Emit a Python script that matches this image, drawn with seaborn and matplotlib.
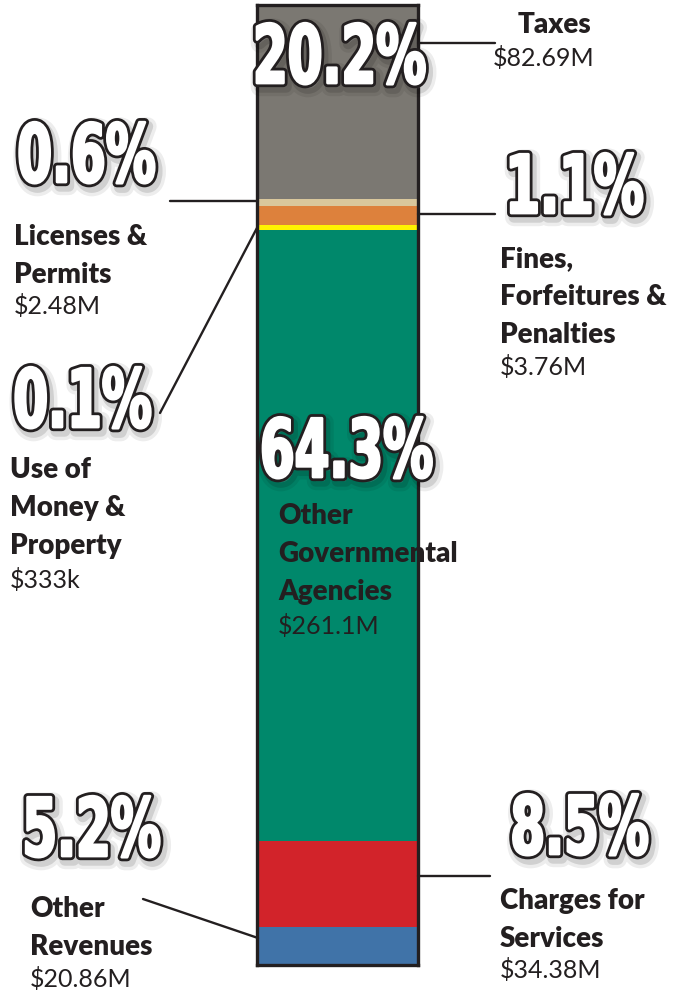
"""Revenue breakdown shown as one stacked column with call-out labels."""

import matplotlib.pyplot as plt
import matplotlib.patheffects as pe
from matplotlib.lines import Line2D
from matplotlib.transforms import Affine2D
import numpy as np
import seaborn as sns

# Data, top segment first
names = ["Taxes", "Licenses &\nPermits", "Fines,\nForfeitures &\nPenalties",
         "Use of\nMoney &\nProperty", "Other\nGovernmental\nAgencies",
         "Charges for\nServices", "Other\nRevenues"]
amounts = ["$82.69M", "$2.48M", "$3.76M", "$333k", "$261.1M", "$34.38M", "$20.86M"]
pct_labels = ["20.2%", "0.6%", "1.1%", "0.1%", "64.3%", "8.5%", "5.2%"]
# drawn segment heights (small slices are enlarged)
shares = [20.2, 0.7, 2.0, 0.5, 63.7, 8.9, 4.0]
colors = ["#7b7872", "#d9c79c", "#dd813c", "#fff200", "#00886b", "#d2232a", "#4073a8"]

# Layout in pixels (x, y from top-left)
W, H = 679, 993
pct_pos = [(340, 61), (87, 160), (575, 191), (83, 405), (347, 455), (580, 832), (92, 834)]
name_pos = [(518, 25), (14, 256), (500, 297), (10, 508), (278, 554), (500, 920), (30, 928)]
amount_pos = [(493, 58), (14, 306), (500, 367), (10, 580), (278, 626), (500, 970), (30, 979)]
leaders = [((418, 43), (495, 43)), ((170, 201), (258, 201)), ((418, 214), (495, 214)),
           ((160, 413), (258, 226)), ((418, 876), (490, 876)), ((143, 899), (258, 938))]

ink = "#231f20"


def fx(x):
    return x / W


def fy(y):
    return 1 - y / H


class Squeeze(pe.AbstractPathEffect):
    """Narrow the glyphs horizontally around their centre (poster-style condensed digits)."""

    def __init__(self, sx, inner):
        super().__init__()
        self.sx = sx
        self.inner = inner

    def draw_path(self, renderer, gc, tpath, affine, rgbFace=None):
        verts = affine.transform(tpath.vertices)
        cx = (np.nanmin(verts[:, 0]) + np.nanmax(verts[:, 0])) / 2
        squeeze = Affine2D().translate(-cx, 0).scale(self.sx, 1).translate(cx, 0)
        self.inner.draw_path(renderer, gc, tpath, affine + squeeze, rgbFace)


sns.set_theme(style="white")
fig = plt.figure(figsize=(W / 100, H / 100), dpi=100)
fig.patch.set_facecolor("white")

# The column itself
ax = fig.add_axes([fx(257), fy(965), (418 - 257) / W, (965 - 5) / H])
tops = np.cumsum(shares[::-1])[::-1]  # cumulative height from the bottom
for top, c in zip(tops, colors):
    sns.barplot(x=["rev"], y=[top], color=c, width=1, saturation=1,
                linewidth=0, ax=ax)
ax.set_xlim(-0.5, 0.5)
ax.set_ylim(0, tops[0])
ax.set_xticks([])
ax.set_yticks([])
ax.set_xlabel("")
ax.set_ylabel("")
for sp in ax.spines.values():
    sp.set_visible(True)
    sp.set_color(ink)
    sp.set_linewidth(2.4)

# Leader lines
for (x0, y0), (x1, y1) in leaders:
    fig.add_artist(Line2D([fx(x0), fx(x1)], [fy(y0), fy(y1)], color=ink, lw=1.7))

sx = 0.62
big_fx = [Squeeze(sx, pe.Stroke(linewidth=13, foreground="black", alpha=0.07, offset=(2, -3))),
          Squeeze(sx, pe.Stroke(linewidth=8, foreground="black", alpha=0.12, offset=(2, -3))),
          Squeeze(sx, pe.Stroke(linewidth=6, foreground=ink)),
          Squeeze(sx, pe.Stroke(linewidth=2, foreground="white")),
          Squeeze(sx, pe.Normal())]

for i in range(len(names)):
    px, py = pct_pos[i]
    fig.text(fx(px), fy(py), pct_labels[i], ha="center", va="center",
             fontsize=58, color="white", fontweight="bold",
             family="DejaVu Sans", path_effects=big_fx)
    nx, ny = name_pos[i]
    fig.text(fx(nx), fy(ny), names[i], ha="left", va="center", fontsize=20,
             fontweight="heavy", color=ink, family=["Lato", "DejaVu Sans"],
             linespacing=1.56)
    ax_, ay_ = amount_pos[i]
    fig.text(fx(ax_), fy(ay_), amounts[i], ha="left", va="center", fontsize=18,
             color=ink, family=["Lato", "DejaVu Sans"])

fig.savefig("out.png", dpi=100, facecolor="white")
